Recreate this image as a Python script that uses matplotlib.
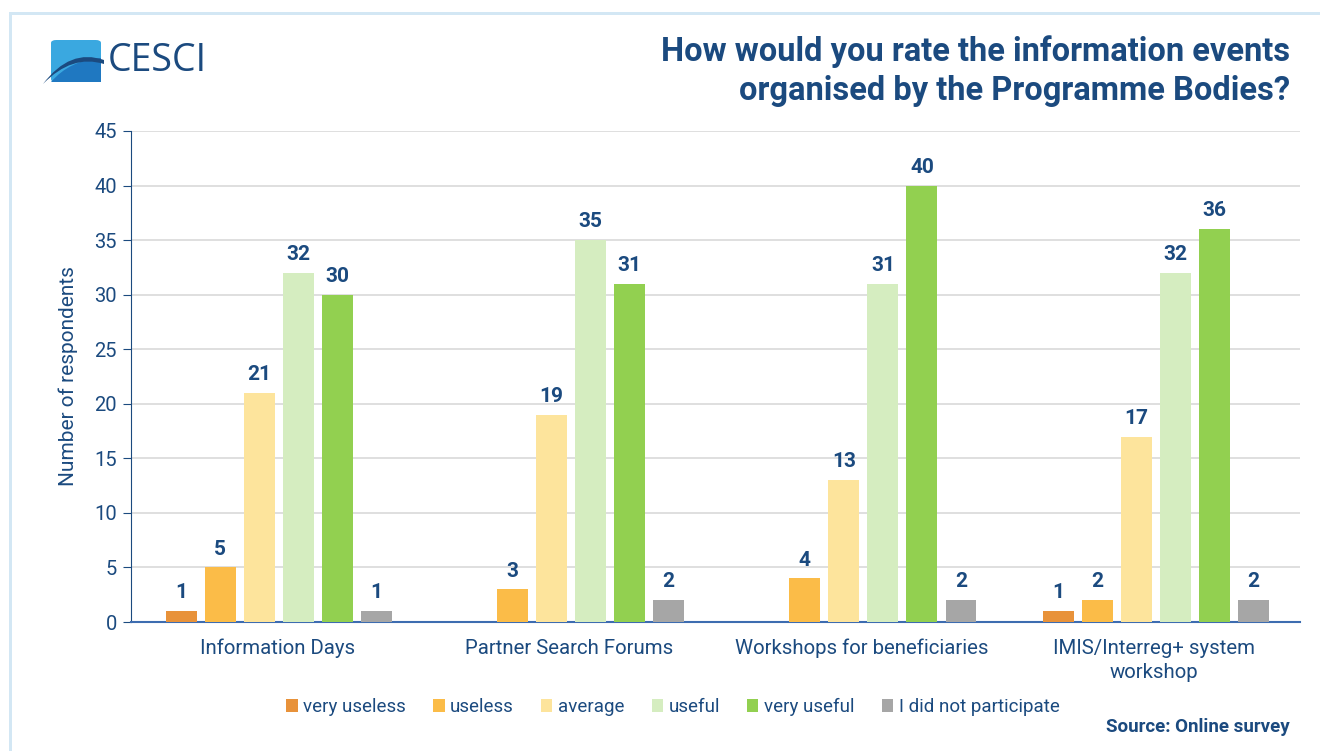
import numpy as np
import matplotlib.pyplot as plt
from matplotlib.patches import FancyBboxPatch, Rectangle, PathPatch
from matplotlib.path import Path

plt.rcParams['font.family'] = ['Roboto', 'DejaVu Sans']

events = ['Information Days', 'Partner Search Forums',
          'Workshops for beneficiaries', 'IMIS/Interreg+ system\nworkshop']
ratings = ['very useless', 'useless', 'average', 'useful', 'very useful',
           'I did not participate']
very_useless = [1, 0, 0, 1]
useless = [5, 3, 4, 2]
average = [21, 19, 13, 17]
useful = [32, 35, 31, 32]
very_useful = [30, 31, 40, 36]
not_participated = [1, 2, 2, 2]

colors = ['#e8923a', '#fbbc48', '#fde49c', '#d5edc0', '#92d050', '#a6a6a6']
navy = '#1b4a7f'
series = [very_useless, useless, average, useful, very_useful, not_participated]

W, H = 1320, 751
def fx(px):
    return px / W
def fy(py):
    return 1 - py / H

fig = plt.figure(figsize=(13.2, 7.51), dpi=100)
ax = fig.add_axes([fx(131), fy(622), 1169 / W, 491 / H])

x = np.arange(len(events))
step = 0.1336
width = 0.106
for i, (vals, col, lab) in enumerate(zip(series, colors, ratings)):
    pos = x + (i - 2.5) * step + 0.006
    ax.bar(pos, vals, width, color=col, label=lab, zorder=3)
    for p, v in zip(pos, vals):
        if v > 0:
            ax.text(p, v + 0.8, str(v), ha='center', va='bottom',
                    fontsize=15, fontweight='bold', color=navy)

ax.set_xlim(-0.5, 3.5)
ax.set_ylim(0, 45)
ax.set_yticks(range(0, 46, 5))
ax.set_xticks(x)
ax.set_xticklabels(events, fontsize=14.7, color=navy, linespacing=1.35)
ax.tick_params(axis='x', length=0, pad=12)
ax.tick_params(axis='y', labelsize=14.5, labelcolor=navy, color=navy,
               length=6, direction='out', pad=4)
ax.grid(axis='y', color='#d9d9d9', linewidth=1.2, zorder=0)
for s in ['top', 'right']:
    ax.spines[s].set_visible(False)
ax.spines['left'].set_color(navy)
ax.spines['bottom'].set_color('#3d6cb0')
ax.spines['bottom'].set_linewidth(1.5)
ax.set_ylabel('Number of respondents', fontsize=15, color=navy, labelpad=12)

leg = fig.legend(loc='center', bbox_to_anchor=(fx(673), fy(707)),
                 ncol=6, frameon=False, fontsize=13.5, handlelength=0.6,
                 handleheight=0.7, handletextpad=0.3, columnspacing=1.45)
for t in leg.get_texts():
    t.set_color(navy)

fig.text(fx(1290), fy(71),
         'How would you rate the information events\norganised by the Programme Bodies?',
         ha='right', va='center', fontsize=23.5, fontweight='bold', color=navy,
         linespacing=1.3)
fig.text(fx(1290), fy(727), 'Source: Online survey', ha='right',
         va='center', fontsize=13.5, fontweight='bold', color=navy)

# frame lines along the top and left edges
fig.add_artist(Rectangle((fx(9), 0), 3 / W, 1 - 12 / H,
                         transform=fig.transFigure, color='#d3e7f4', lw=0))
fig.add_artist(Rectangle((fx(9), fy(15)), 1 - 9 / W, 3 / H,
                         transform=fig.transFigure, color='#d3e7f4', lw=0))

# logo
fig.add_artist(FancyBboxPatch((fx(51), fy(82)), fx(101) - fx(51), fy(40) - fy(82),
                              boxstyle='round,pad=0,rounding_size=0.004',
                              transform=fig.transFigure, color='#3aa8e0', lw=0))
lower = Path([(fx(51), fy(82)), (fx(70), fy(60)), (fx(101), fy(58)),
              (fx(101), fy(58)), (fx(101), fy(82)), (fx(51), fy(82))],
             [Path.MOVETO, Path.CURVE3, Path.CURVE3, Path.LINETO, Path.LINETO,
              Path.CLOSEPOLY])
fig.add_artist(PathPatch(lower, transform=fig.transFigure, color='#1f78c1', lw=0))
arc = Path([(fx(43), fy(84)), (fx(70), fy(48)), (fx(104), fy(60)),
            (fx(104), fy(64)), (fx(72), fy(54)), (fx(43), fy(84))],
           [Path.MOVETO, Path.CURVE3, Path.CURVE3, Path.LINETO, Path.CURVE3,
            Path.CURVE3])
fig.add_artist(PathPatch(arc, transform=fig.transFigure, color='#1b4a7f', lw=0))
fig.text(fx(108), fy(61), 'CESCI', ha='left', va='center', fontsize=27,
         color='#1b4a7f', family=['Open Sans', 'DejaVu Sans'])

fig.savefig('out.png', dpi=100)
